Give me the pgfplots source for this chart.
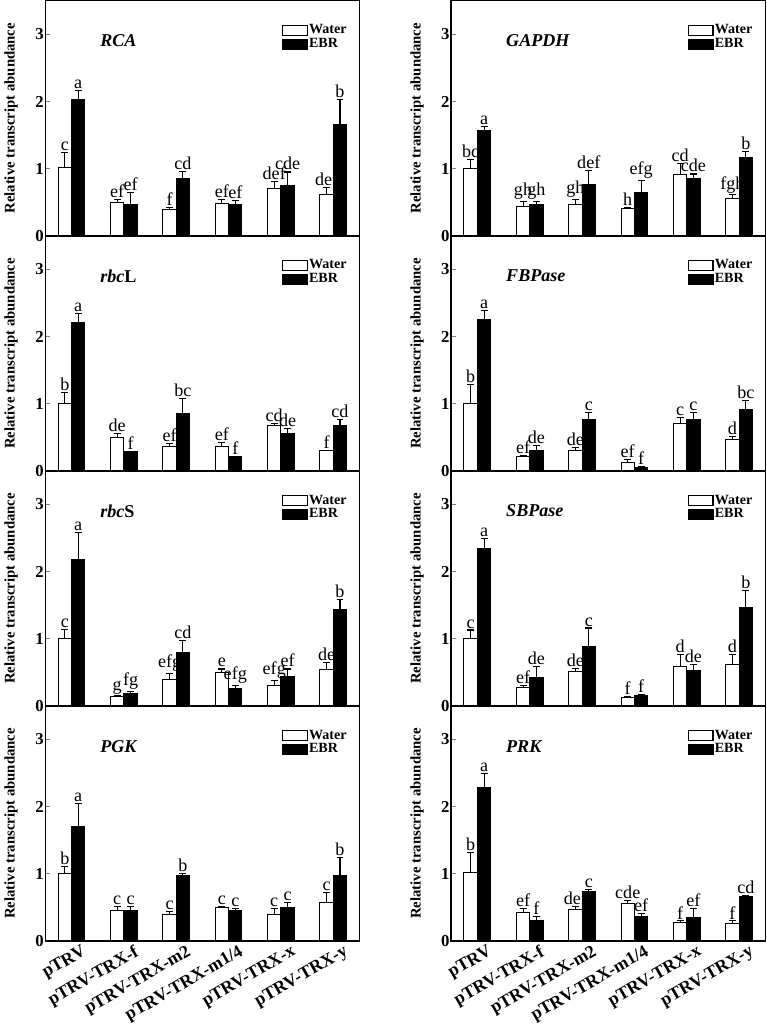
\documentclass[border=0pt]{standalone}
\usepackage{pgfplots}
\pgfplotsset{compat=1.18}
\usepackage{pgfplotstable}
\usepgfplotslibrary{groupplots}
\usepackage{fontspec}
\setmainfont{Liberation Serif}

\pgfplotstableread{
x w we wl e ee el
0 1.01 0.23 c 2.03 0.13 a
1 0.49 0.05 ef 0.47 0.17 ef
2 0.39 0.03 f 0.86 0.10 cd
3 0.48 0.06 ef 0.46 0.06 ef
4 0.70 0.11 def 0.75 0.20 cde
5 0.61 0.11 def 1.66 0.37 b
}\RCA
\pgfplotstableread{
x w we wl e ee el
0 1.00 0.13 bc 1.57 0.06 a
1 0.44 0.07 gh 0.46 0.05 gh
2 0.47 0.07 gh 0.76 0.21 def
3 0.40 0.02 h 0.65 0.17 efg
4 0.92 0.16 cd 0.86 0.06 cde
5 0.56 0.05 fgh 1.16 0.10 b
}\GAPDH
\pgfplotstableread{
x w we wl e ee el
0 1.00 0.16 b 2.21 0.13 a
1 0.50 0.06 de 0.29 0.00 f
2 0.37 0.04 ef 0.85 0.23 bc
3 0.37 0.05 ef 0.21 0.01 f
4 0.67 0.03 cd 0.56 0.07 de
5 0.31 0.00 f 0.68 0.08 cd
}\RBCL
\pgfplotstableread{
x w we wl e ee el
0 1.01 0.28 b 2.25 0.14 a
1 0.21 0.02 ef 0.30 0.08 de
2 0.31 0.04 de 0.76 0.11 c
3 0.13 0.04 ef 0.05 0.01 f
4 0.71 0.08 c 0.77 0.10 c
5 0.46 0.05 d 0.91 0.14 bc
}\FBP
\pgfplotstableread{
x w we wl e ee el
0 1.00 0.14 c 2.18 0.40 a
1 0.14 0.01 g 0.19 0.03 fg
2 0.40 0.08 efg 0.79 0.19 cd
3 0.50 0.05 e 0.26 0.05 efg
4 0.31 0.07 efg 0.44 0.11 ef
5 0.54 0.11 de 1.44 0.14 b
}\RBCS
\pgfplotstableread{
x w we wl e ee el
0 1.00 0.13 c 2.34 0.15 a
1 0.28 0.03 ef 0.43 0.16 de
2 0.51 0.05 de 0.89 0.27 c
3 0.13 0.01 f 0.15 0.02 f
4 0.58 0.19 d 0.52 0.10 de
5 0.61 0.16 d 1.46 0.26 b
}\SBP
\pgfplotstableread{
x w we wl e ee el
0 1.00 0.11 b 1.71 0.34 a
1 0.45 0.07 c 0.46 0.05 c
2 0.40 0.04 c 0.97 0.03 b
3 0.50 0.02 c 0.45 0.04 c
4 0.39 0.09 c 0.50 0.07 c
5 0.57 0.15 c 0.97 0.28 b
}\PGK
\pgfplotstableread{
x w we wl e ee el
0 1.02 0.30 b 2.29 0.21 a
1 0.42 0.07 ef 0.31 0.05 f
2 0.47 0.05 def 0.74 0.02 c
3 0.56 0.04 cde 0.36 0.05 ef
4 0.27 0.03 f 0.35 0.13 ef
5 0.26 0.04 f 0.66 0.01 cd
}\PRK

\tikzset{gene/.style={anchor=west, font=\bfseries\itshape\fontsize{13.5}{13.5}\selectfont}}

\pgfplotsset{
  panel/.style={
    scale only axis, width=234.5pt, height=175.5pt,
    ybar=0pt, bar width=10pt,
    ymin=0, ymax=3.5, xmin=-0.5, xmax=5.5,
    ytick={0,1,2,3}, xtick={0,...,5},
    xticklabels={pTRV,pTRV-TRX-f,pTRV-TRX-m2,pTRV-TRX-m1/4,pTRV-TRX-x,pTRV-TRX-y},
    xtick style={draw=none},
    ytick pos=left, tick align=inside, major tick length=3.75pt,
    ytick style={line width=0.9pt},
    axis line style={line width=1.1pt},
    /pgf/number format/assume math mode=true,
    yticklabel style={font=\bfseries\fontsize{12.5}{12.5}\selectfont, inner sep=1pt},
    xticklabel style={font=\bfseries\fontsize{13.3}{13.3}\selectfont, rotate=30, anchor=north east, inner sep=1pt, xshift=6pt, yshift=-4.5pt},
    ylabel={Relative transcript abundance},
    ylabel style={font=\bfseries\fontsize{11}{11}\selectfont, at={(rel axis cs:-0.109,0.5)}, anchor=center},
    legend image code/.code={\draw[#1, line width=0.8pt] (0pt,-3.6pt) rectangle (18.5pt,3.6pt);},
    legend style={at={(rel axis cs:0.752,0.905)}, anchor=north west, draw=none, fill=none,
      font=\bfseries\fontsize{10.5}{10.5}\selectfont, inner sep=0pt, row sep=0pt,
      nodes={inner sep=1pt}},
    legend cell align=left,
  },
  wbar/.style={fill=white, draw=black, line width=0.75pt,
    point meta=explicit symbolic, nodes near coords,
    visualization depends on={\thisrow{we} \as \myerr},
    nodes near coords style={shift={(axis direction cs:0,\myerr)}, anchor=south, text=black,
      font=\fontsize{13.5}{13.5}\selectfont, inner sep=1pt},
    error bars/.cd, y dir=plus, y explicit,
    error bar style={line width=0.8pt, black},
    error mark options={rotate=90, mark size=2.6pt, line width=0.8pt, black}},
  ebar/.style={fill=black, draw=black, line width=0.75pt,
    point meta=explicit symbolic, nodes near coords,
    visualization depends on={\thisrow{ee} \as \myerr},
    nodes near coords style={shift={(axis direction cs:0,\myerr)}, anchor=south, text=black,
      font=\fontsize{13.5}{13.5}\selectfont, inner sep=1pt},
    error bars/.cd, y dir=plus, y explicit,
    error bar style={line width=0.8pt, black},
    error mark options={rotate=90, mark size=2.6pt, line width=0.8pt, black}},
}

\newcommand{\panel}[2]{%
  \addplot[wbar] table[x=x, y=w, y error=we, meta=wl] {#1};
  \addplot[ebar] table[x=x, y=e, y error=ee, meta=el] {#1};
  \legend{Water,EBR}
  \node[gene] at (rel axis cs:0.16,0.829) {#2};
}

\begin{document}
\begin{tikzpicture}
\begin{groupplot}[group style={group size=2 by 4, horizontal sep=68.5pt, vertical sep=0pt, xticklabels at=edge bottom}, panel]
\nextgroupplot
\panel{\RCA}{RCA}
\nextgroupplot
\panel{\GAPDH}{GAPDH}
\nextgroupplot
\panel{\RBCL}{rbc\upshape L}
\nextgroupplot
\panel{\FBP}{FBPase}
\nextgroupplot
\panel{\RBCS}{rbc\upshape S}
\nextgroupplot
\panel{\SBP}{SBPase}
\nextgroupplot
\panel{\PGK}{PGK}
\nextgroupplot
\panel{\PRK}{PRK}
\end{groupplot}
\end{tikzpicture}
\end{document}
